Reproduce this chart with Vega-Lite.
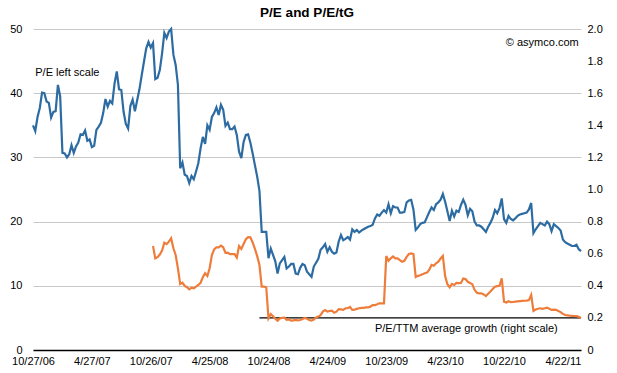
{
"$schema": "https://vega.github.io/schema/vega-lite/v6.json",
"width": 548, "height": 321,
"autosize": "none",
"padding": {"left": 33, "top": 29, "right": 36, "bottom": 23},
"title": {"text": "P/E and P/E/tG", "font": "Liberation Sans", "fontSize": 13.5, "fontWeight": "bold", "color": "#000", "anchor": "middle", "frame": "group", "offset": 4},
"config": {"view": {"stroke": null}, "font": "Liberation Sans",
  "axis": {"labelFont": "Liberation Sans", "labelFontSize": 11, "labelColor": "#000", "ticks": false, "domain": false, "grid": false, "title": null, "labelOverlap": false, "labelFlush": false, "labelBound": false}},
"datasets": {
"pe": [
{"date":"2006-10-27","pe":35.0},{"date":"2006-11-03","pe":34.1},{"date":"2006-11-10","pe":36.3},{"date":"2006-11-17","pe":37.7},{"date":"2006-11-24","pe":40.1},{"date":"2006-12-01","pe":40.0},{"date":"2006-12-08","pe":38.7},{"date":"2006-12-15","pe":38.5},{"date":"2006-12-22","pe":36.2},{"date":"2006-12-29","pe":37.1},
{"date":"2007-01-05","pe":37.2},{"date":"2007-01-12","pe":41.3},{"date":"2007-01-19","pe":39.5},{"date":"2007-01-26","pe":30.7},{"date":"2007-02-02","pe":30.6},{"date":"2007-02-09","pe":30.0},{"date":"2007-02-16","pe":30.5},{"date":"2007-02-23","pe":31.9},{"date":"2007-03-02","pe":30.7},{"date":"2007-03-09","pe":31.7},
{"date":"2007-03-16","pe":32.3},{"date":"2007-03-23","pe":33.6},{"date":"2007-03-30","pe":33.5},{"date":"2007-04-06","pe":34.2},{"date":"2007-04-13","pe":32.6},{"date":"2007-04-20","pe":32.8},{"date":"2007-04-27","pe":31.6},{"date":"2007-05-04","pe":31.8},{"date":"2007-05-11","pe":34.3},{"date":"2007-05-18","pe":34.8},
{"date":"2007-05-25","pe":35.4},{"date":"2007-06-01","pe":36.9},{"date":"2007-06-08","pe":39.1},{"date":"2007-06-15","pe":37.9},{"date":"2007-06-22","pe":38.8},{"date":"2007-06-29","pe":38.4},{"date":"2007-07-06","pe":41.5},{"date":"2007-07-13","pe":43.4},{"date":"2007-07-20","pe":40.6},{"date":"2007-07-27","pe":40.5},
{"date":"2007-08-03","pe":37.1},{"date":"2007-08-10","pe":35.2},{"date":"2007-08-17","pe":34.5},{"date":"2007-08-24","pe":38.0},{"date":"2007-08-31","pe":39.0},{"date":"2007-09-07","pe":37.2},{"date":"2007-09-14","pe":38.9},{"date":"2007-09-21","pe":40.6},{"date":"2007-09-28","pe":42.8},{"date":"2007-10-05","pe":44.9},
{"date":"2007-10-12","pe":47.0},{"date":"2007-10-19","pe":48.0},{"date":"2007-10-26","pe":47.1},{"date":"2007-11-02","pe":47.8},{"date":"2007-11-09","pe":42.2},{"date":"2007-11-16","pe":42.4},{"date":"2007-11-23","pe":43.6},{"date":"2007-11-30","pe":46.2},{"date":"2007-12-07","pe":49.4},{"date":"2007-12-14","pe":48.6},
{"date":"2007-12-21","pe":49.6},{"date":"2007-12-28","pe":50.0},{"date":"2008-01-04","pe":46.0},{"date":"2008-01-11","pe":44.4},{"date":"2008-01-18","pe":41.3},{"date":"2008-01-25","pe":28.3},{"date":"2008-02-01","pe":29.2},{"date":"2008-02-08","pe":27.3},{"date":"2008-02-15","pe":27.1},{"date":"2008-02-22","pe":26.0},
{"date":"2008-02-29","pe":27.1},{"date":"2008-03-07","pe":26.6},{"date":"2008-03-14","pe":27.8},{"date":"2008-03-21","pe":29.1},{"date":"2008-03-28","pe":31.4},{"date":"2008-04-04","pe":33.2},{"date":"2008-04-11","pe":32.1},{"date":"2008-04-18","pe":35.0},{"date":"2008-04-25","pe":34.3},{"date":"2008-05-02","pe":36.3},
{"date":"2008-05-09","pe":36.9},{"date":"2008-05-16","pe":37.8},{"date":"2008-05-23","pe":36.6},{"date":"2008-05-30","pe":38.2},{"date":"2008-06-06","pe":37.4},{"date":"2008-06-13","pe":34.9},{"date":"2008-06-20","pe":35.4},{"date":"2008-06-27","pe":34.4},{"date":"2008-07-04","pe":34.4},{"date":"2008-07-11","pe":34.8},
{"date":"2008-07-18","pe":33.5},{"date":"2008-07-25","pe":30.9},{"date":"2008-08-01","pe":29.9},{"date":"2008-08-08","pe":32.4},{"date":"2008-08-15","pe":33.5},{"date":"2008-08-22","pe":33.6},{"date":"2008-08-29","pe":32.3},{"date":"2008-09-05","pe":30.6},{"date":"2008-09-12","pe":28.8},{"date":"2008-09-19","pe":27.0},
{"date":"2008-09-26","pe":24.8},{"date":"2008-10-03","pe":18.4},{"date":"2008-10-10","pe":18.4},{"date":"2008-10-17","pe":18.4},{"date":"2008-10-24","pe":14.3},{"date":"2008-10-31","pe":15.8},{"date":"2008-11-07","pe":14.8},{"date":"2008-11-14","pe":13.8},{"date":"2008-11-21","pe":11.9},{"date":"2008-11-28","pe":13.5},
{"date":"2008-12-05","pe":14.0},{"date":"2008-12-12","pe":14.5},{"date":"2008-12-19","pe":12.7},{"date":"2008-12-26","pe":13.0},{"date":"2009-01-02","pe":13.4},{"date":"2009-01-09","pe":13.4},{"date":"2009-01-16","pe":11.9},{"date":"2009-01-23","pe":11.8},{"date":"2009-01-30","pe":12.8},{"date":"2009-02-06","pe":13.4},
{"date":"2009-02-13","pe":13.2},{"date":"2009-02-20","pe":12.2},{"date":"2009-02-27","pe":11.8},{"date":"2009-03-06","pe":11.4},{"date":"2009-03-13","pe":13.0},{"date":"2009-03-20","pe":13.6},{"date":"2009-03-27","pe":14.2},{"date":"2009-04-03","pe":15.6},{"date":"2009-04-10","pe":16.0},{"date":"2009-04-17","pe":16.5},
{"date":"2009-04-24","pe":15.3},{"date":"2009-05-01","pe":16.0},{"date":"2009-05-08","pe":15.3},{"date":"2009-05-15","pe":15.0},{"date":"2009-05-22","pe":15.2},{"date":"2009-05-29","pe":16.9},{"date":"2009-06-05","pe":17.9},{"date":"2009-06-12","pe":17.1},{"date":"2009-06-19","pe":17.3},{"date":"2009-06-26","pe":17.6},
{"date":"2009-07-03","pe":17.2},{"date":"2009-07-10","pe":18.8},{"date":"2009-07-17","pe":18.4},{"date":"2009-07-24","pe":18.7},{"date":"2009-07-31","pe":18.3},{"date":"2009-08-07","pe":18.6},{"date":"2009-08-14","pe":18.8},{"date":"2009-08-21","pe":19.0},{"date":"2009-08-28","pe":19.2},{"date":"2009-09-04","pe":19.3},
{"date":"2009-09-11","pe":19.5},{"date":"2009-09-18","pe":20.5},{"date":"2009-09-25","pe":21.1},{"date":"2009-10-02","pe":20.9},{"date":"2009-10-09","pe":21.4},{"date":"2009-10-16","pe":21.8},{"date":"2009-10-23","pe":21.4},{"date":"2009-10-30","pe":22.7},{"date":"2009-11-06","pe":21.3},{"date":"2009-11-13","pe":22.4},
{"date":"2009-11-20","pe":22.2},{"date":"2009-11-27","pe":22.2},{"date":"2009-12-04","pe":21.4},{"date":"2009-12-11","pe":21.4},{"date":"2009-12-18","pe":21.5},{"date":"2009-12-25","pe":23.0},{"date":"2010-01-01","pe":23.3},{"date":"2010-01-08","pe":23.4},{"date":"2010-01-15","pe":21.9},{"date":"2010-01-22","pe":18.7},
{"date":"2010-01-29","pe":19.1},{"date":"2010-02-05","pe":19.6},{"date":"2010-02-12","pe":19.8},{"date":"2010-02-19","pe":19.9},{"date":"2010-02-26","pe":20.7},{"date":"2010-03-05","pe":21.5},{"date":"2010-03-12","pe":22.2},{"date":"2010-03-19","pe":21.8},{"date":"2010-03-26","pe":22.7},{"date":"2010-04-02","pe":23.0},
{"date":"2010-04-09","pe":23.4},{"date":"2010-04-16","pe":24.3},{"date":"2010-04-23","pe":23.1},{"date":"2010-04-30","pe":21.6},{"date":"2010-05-07","pe":20.1},{"date":"2010-05-14","pe":21.7},{"date":"2010-05-21","pe":20.8},{"date":"2010-05-28","pe":21.7},{"date":"2010-06-04","pe":21.5},{"date":"2010-06-11","pe":22.6},
{"date":"2010-06-18","pe":23.4},{"date":"2010-06-25","pe":22.6},{"date":"2010-07-02","pe":21.0},{"date":"2010-07-09","pe":22.0},{"date":"2010-07-16","pe":21.6},{"date":"2010-07-23","pe":20.0},{"date":"2010-07-30","pe":19.4},{"date":"2010-08-06","pe":19.4},{"date":"2010-08-13","pe":19.2},{"date":"2010-08-20","pe":18.8},
{"date":"2010-08-27","pe":18.4},{"date":"2010-09-03","pe":19.2},{"date":"2010-09-10","pe":19.8},{"date":"2010-09-17","pe":20.6},{"date":"2010-09-24","pe":21.8},{"date":"2010-10-01","pe":21.3},{"date":"2010-10-08","pe":22.1},{"date":"2010-10-15","pe":23.6},{"date":"2010-10-22","pe":20.4},{"date":"2010-10-29","pe":19.8},
{"date":"2010-11-05","pe":20.9},{"date":"2010-11-12","pe":20.4},{"date":"2010-11-19","pe":20.2},{"date":"2010-11-26","pe":20.5},{"date":"2010-12-03","pe":20.9},{"date":"2010-12-10","pe":21.1},{"date":"2010-12-17","pe":21.2},{"date":"2010-12-24","pe":21.3},{"date":"2010-12-31","pe":21.4},{"date":"2011-01-07","pe":21.9},
{"date":"2011-01-14","pe":22.9},{"date":"2011-01-21","pe":18.2},{"date":"2011-01-28","pe":18.8},{"date":"2011-02-04","pe":19.3},{"date":"2011-02-11","pe":19.8},{"date":"2011-02-18","pe":19.6},{"date":"2011-02-25","pe":19.4},{"date":"2011-03-04","pe":20.0},{"date":"2011-03-11","pe":19.6},{"date":"2011-03-18","pe":18.5},
{"date":"2011-03-25","pe":19.6},{"date":"2011-04-01","pe":19.3},{"date":"2011-04-08","pe":19.0},{"date":"2011-04-15","pe":18.6},{"date":"2011-04-22","pe":17.2},{"date":"2011-04-29","pe":16.8},{"date":"2011-05-06","pe":16.6},{"date":"2011-05-13","pe":16.4},{"date":"2011-05-20","pe":16.2},{"date":"2011-05-27","pe":16.2},
{"date":"2011-06-03","pe":16.4},{"date":"2011-06-10","pe":15.7},{"date":"2011-06-17","pe":15.4}
],
"peg": [
{"date":"2007-11-02","peg":0.648},{"date":"2007-11-09","peg":0.571},{"date":"2007-11-16","peg":0.578},{"date":"2007-11-23","peg":0.595},{"date":"2007-11-30","peg":0.620},{"date":"2007-12-07","peg":0.669},{"date":"2007-12-14","peg":0.660},{"date":"2007-12-21","peg":0.675},{"date":"2007-12-28","peg":0.696},{"date":"2008-01-04","peg":0.634},
{"date":"2008-01-11","peg":0.592},{"date":"2008-01-18","peg":0.509},{"date":"2008-01-25","peg":0.411},{"date":"2008-02-01","peg":0.419},{"date":"2008-02-08","peg":0.399},{"date":"2008-02-15","peg":0.391},{"date":"2008-02-22","peg":0.378},{"date":"2008-02-29","peg":0.388},{"date":"2008-03-07","peg":0.384},{"date":"2008-03-14","peg":0.395},
{"date":"2008-03-21","peg":0.405},{"date":"2008-03-28","peg":0.419},{"date":"2008-04-04","peg":0.453},{"date":"2008-04-11","peg":0.478},{"date":"2008-04-18","peg":0.461},{"date":"2008-04-25","peg":0.509},{"date":"2008-05-02","peg":0.592},{"date":"2008-05-09","peg":0.627},{"date":"2008-05-16","peg":0.640},{"date":"2008-05-23","peg":0.640},
{"date":"2008-05-30","peg":0.650},{"date":"2008-06-06","peg":0.640},{"date":"2008-06-13","peg":0.605},{"date":"2008-06-20","peg":0.606},{"date":"2008-06-27","peg":0.597},{"date":"2008-07-04","peg":0.598},{"date":"2008-07-11","peg":0.597},{"date":"2008-07-18","peg":0.575},{"date":"2008-07-25","peg":0.648},{"date":"2008-08-01","peg":0.630},
{"date":"2008-08-08","peg":0.660},{"date":"2008-08-15","peg":0.690},{"date":"2008-08-22","peg":0.703},{"date":"2008-08-29","peg":0.702},{"date":"2008-09-05","peg":0.670},{"date":"2008-09-12","peg":0.630},{"date":"2008-09-19","peg":0.585},{"date":"2008-09-26","peg":0.530},{"date":"2008-10-03","peg":0.395},{"date":"2008-10-10","peg":0.395},
{"date":"2008-10-17","peg":0.391},{"date":"2008-10-24","peg":0.197},{"date":"2008-10-31","peg":0.224},{"date":"2008-11-07","peg":0.210},{"date":"2008-11-14","peg":0.195},{"date":"2008-11-21","peg":0.182},{"date":"2008-11-28","peg":0.197},{"date":"2008-12-05","peg":0.200},{"date":"2008-12-12","peg":0.201},{"date":"2008-12-19","peg":0.188},
{"date":"2008-12-26","peg":0.190},{"date":"2009-01-02","peg":0.183},{"date":"2009-01-09","peg":0.185},{"date":"2009-01-16","peg":0.187},{"date":"2009-01-23","peg":0.184},{"date":"2009-01-30","peg":0.187},{"date":"2009-02-06","peg":0.193},{"date":"2009-02-13","peg":0.200},{"date":"2009-02-20","peg":0.195},{"date":"2009-02-27","peg":0.187},
{"date":"2009-03-06","peg":0.183},{"date":"2009-03-13","peg":0.190},{"date":"2009-03-20","peg":0.203},{"date":"2009-03-27","peg":0.208},{"date":"2009-04-03","peg":0.217},{"date":"2009-04-10","peg":0.239},{"date":"2009-04-17","peg":0.249},{"date":"2009-04-24","peg":0.239},{"date":"2009-05-01","peg":0.243},{"date":"2009-05-08","peg":0.245},
{"date":"2009-05-15","peg":0.232},{"date":"2009-05-22","peg":0.239},{"date":"2009-05-29","peg":0.255},{"date":"2009-06-05","peg":0.253},{"date":"2009-06-12","peg":0.250},{"date":"2009-06-19","peg":0.260},{"date":"2009-06-26","peg":0.260},{"date":"2009-07-03","peg":0.268},{"date":"2009-07-10","peg":0.250},{"date":"2009-07-17","peg":0.252},
{"date":"2009-07-24","peg":0.256},{"date":"2009-07-31","peg":0.260},{"date":"2009-08-07","peg":0.262},{"date":"2009-08-14","peg":0.263},{"date":"2009-08-21","peg":0.265},{"date":"2009-08-28","peg":0.266},{"date":"2009-09-04","peg":0.270},{"date":"2009-09-11","peg":0.280},{"date":"2009-09-18","peg":0.280},{"date":"2009-09-25","peg":0.285},
{"date":"2009-10-02","peg":0.291},{"date":"2009-10-09","peg":0.291},{"date":"2009-10-16","peg":0.291},{"date":"2009-10-23","peg":0.586},{"date":"2009-10-30","peg":0.556},{"date":"2009-11-06","peg":0.571},{"date":"2009-11-13","peg":0.583},{"date":"2009-11-20","peg":0.571},{"date":"2009-11-27","peg":0.571},{"date":"2009-12-04","peg":0.560},
{"date":"2009-12-11","peg":0.550},{"date":"2009-12-18","peg":0.556},{"date":"2009-12-25","peg":0.580},{"date":"2010-01-01","peg":0.598},{"date":"2010-01-08","peg":0.602},{"date":"2010-01-15","peg":0.598},{"date":"2010-01-22","peg":0.455},{"date":"2010-01-29","peg":0.462},{"date":"2010-02-05","peg":0.466},{"date":"2010-02-12","peg":0.472},
{"date":"2010-02-19","peg":0.478},{"date":"2010-02-26","peg":0.482},{"date":"2010-03-05","peg":0.500},{"date":"2010-03-12","peg":0.530},{"date":"2010-03-19","peg":0.525},{"date":"2010-03-26","peg":0.540},{"date":"2010-04-02","peg":0.550},{"date":"2010-04-09","peg":0.570},{"date":"2010-04-16","peg":0.586},{"date":"2010-04-23","peg":0.460},
{"date":"2010-04-30","peg":0.410},{"date":"2010-05-07","peg":0.390},{"date":"2010-05-14","peg":0.412},{"date":"2010-05-21","peg":0.405},{"date":"2010-05-28","peg":0.418},{"date":"2010-06-04","peg":0.417},{"date":"2010-06-11","peg":0.418},{"date":"2010-06-18","peg":0.445},{"date":"2010-06-25","peg":0.442},{"date":"2010-07-02","peg":0.425},
{"date":"2010-07-09","peg":0.418},{"date":"2010-07-16","peg":0.410},{"date":"2010-07-23","peg":0.375},{"date":"2010-07-30","peg":0.357},{"date":"2010-08-06","peg":0.353},{"date":"2010-08-13","peg":0.353},{"date":"2010-08-20","peg":0.346},{"date":"2010-08-27","peg":0.336},{"date":"2010-09-03","peg":0.350},{"date":"2010-09-10","peg":0.364},
{"date":"2010-09-17","peg":0.380},{"date":"2010-09-24","peg":0.394},{"date":"2010-10-01","peg":0.398},{"date":"2010-10-08","peg":0.400},{"date":"2010-10-15","peg":0.447},{"date":"2010-10-22","peg":0.301},{"date":"2010-10-29","peg":0.296},{"date":"2010-11-05","peg":0.304},{"date":"2010-11-12","peg":0.298},{"date":"2010-11-19","peg":0.299},
{"date":"2010-11-26","peg":0.301},{"date":"2010-12-03","peg":0.303},{"date":"2010-12-10","peg":0.305},{"date":"2010-12-17","peg":0.306},{"date":"2010-12-24","peg":0.307},{"date":"2010-12-31","peg":0.308},{"date":"2011-01-07","peg":0.311},{"date":"2011-01-14","peg":0.343},{"date":"2011-01-21","peg":0.243},{"date":"2011-01-28","peg":0.252},
{"date":"2011-02-04","peg":0.257},{"date":"2011-02-11","peg":0.260},{"date":"2011-02-18","peg":0.256},{"date":"2011-02-25","peg":0.260},{"date":"2011-03-04","peg":0.264},{"date":"2011-03-11","peg":0.257},{"date":"2011-03-18","peg":0.250},{"date":"2011-03-25","peg":0.252},{"date":"2011-04-01","peg":0.250},{"date":"2011-04-08","peg":0.243},
{"date":"2011-04-15","peg":0.236},{"date":"2011-04-22","peg":0.225},{"date":"2011-04-29","peg":0.218},{"date":"2011-05-06","peg":0.216},{"date":"2011-05-13","peg":0.214},{"date":"2011-05-20","peg":0.213},{"date":"2011-05-27","peg":0.212},{"date":"2011-06-03","peg":0.211},{"date":"2011-06-10","peg":0.207},{"date":"2011-06-17","peg":0.199}
]
},
"encoding": {
  "x": {"field": "date", "type": "temporal",
    "scale": {"type": "utc", "domain": [{"year": 2006, "month": 10, "date": 27, "utc": true}, {"year": 2011, "month": 6, "date": 17, "utc": true}]},
    "axis": {"domain": true, "domainColor": "#000", "domainWidth": 1.5, "labelExpr": "utcFormat(datum.value, '%-m/%-d/%y')", "labelPadding": 5,
      "values": [{"year":2006,"month":10,"date":27,"utc":true},{"year":2007,"month":4,"date":27,"utc":true},{"year":2007,"month":10,"date":26,"utc":true},{"year":2008,"month":4,"date":25,"utc":true},{"year":2008,"month":10,"date":24,"utc":true},{"year":2009,"month":4,"date":24,"utc":true},{"year":2009,"month":10,"date":23,"utc":true},{"year":2010,"month":4,"date":23,"utc":true},{"year":2010,"month":10,"date":22,"utc":true},{"year":2011,"month":4,"date":22,"utc":true}]}}
},
"layer": [
{"layer": [
  {"data": {"name": "pe"},
   "mark": {"type": "line", "color": "#2d6ca2", "strokeWidth": 2.2},
   "encoding": {
     "y": {"field": "pe", "type": "quantitative", "scale": {"domain": [0, 50]},
       "axis": {"orient": "left", "values": [0, 10, 20, 30, 40, 50], "grid": true, "gridColor": "#c8c8c8", "gridWidth": 1, "labelPadding": 11}}
   }},
  {"data": {"values": [{"date": "2008-09-26", "end": "2011-06-17", "v": 5}]},
   "mark": {"type": "rule", "color": "#000", "strokeWidth": 1.3},
   "encoding": {
     "x2": {"field": "end"},
     "y": {"field": "v", "type": "quantitative"}
   }},
  {"data": {"values": [{"date": "2011-06-10", "v": 47.8, "t": "© asymco.com"}]},
   "mark": {"type": "text", "align": "right", "baseline": "middle", "font": "Liberation Sans", "fontSize": 11, "color": "#000"},
   "encoding": {"y": {"field": "v", "type": "quantitative"}, "text": {"field": "t"}}},
  {"data": {"values": [{"date": "2006-11-03", "v": 43.2, "t": "P/E left scale"}]},
   "mark": {"type": "text", "align": "left", "baseline": "middle", "font": "Liberation Sans", "fontSize": 11, "color": "#000"},
   "encoding": {"y": {"field": "v", "type": "quantitative"}, "text": {"field": "t"}}},
  {"data": {"values": [{"date": "2009-09-18", "v": 3.3, "t": "P/E/TTM average growth (right scale)"}]},
   "mark": {"type": "text", "align": "left", "baseline": "middle", "font": "Liberation Sans", "fontSize": 11, "color": "#000"},
   "encoding": {"y": {"field": "v", "type": "quantitative"}, "text": {"field": "t"}}}
 ]},
{"data": {"name": "peg"},
 "mark": {"type": "line", "color": "#ee7d3b", "strokeWidth": 2.2},
 "encoding": {
   "y": {"field": "peg", "type": "quantitative", "scale": {"domain": [0, 2]},
     "axis": {"orient": "right", "values": [0, 0.2, 0.4, 0.6, 0.8, 1.0, 1.2, 1.4, 1.6, 1.8, 2.0], "labelExpr": "datum.value == 0 ? '0' : format(datum.value, '.1f')", "labelPadding": 6}}
 }}
],
"resolve": {"scale": {"y": "independent"}}
}
